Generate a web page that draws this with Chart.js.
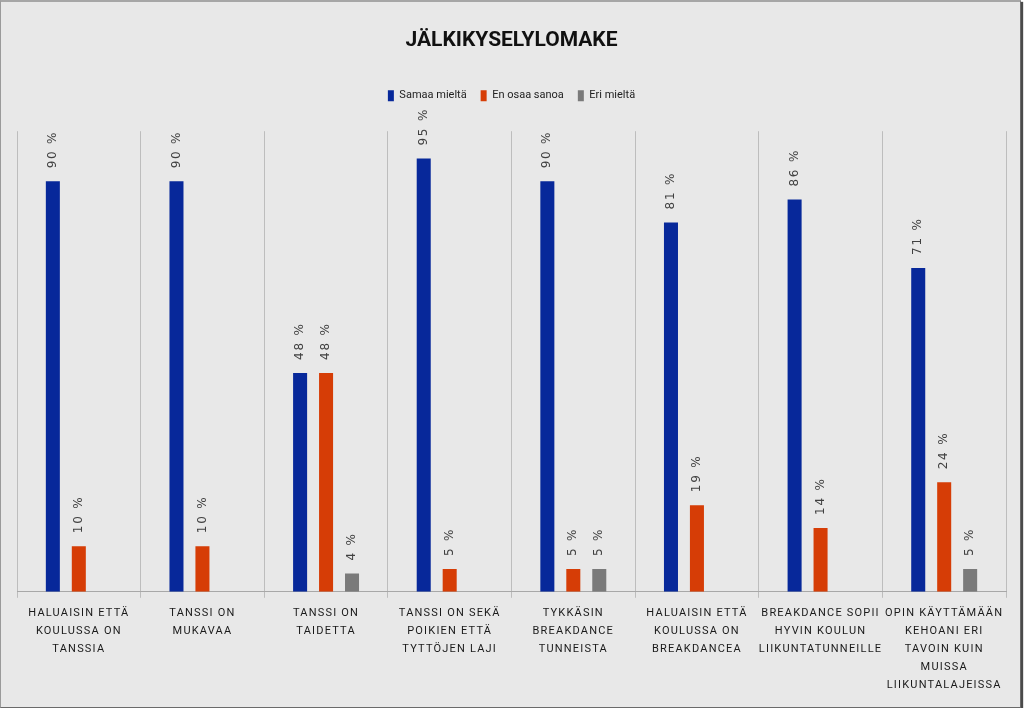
<!DOCTYPE html>
<html>
<head>
<meta charset="utf-8">
<title>Jälkikyselylomake</title>
<script src="https://cdn.jsdelivr.net/npm/chart.js@4.4.1/dist/chart.umd.min.js"></script>
<style>
  html, body {
    margin: 0;
    padding: 0;
    background: #ffffff;
  }
  .frame {
    position: relative;
    width: 1019px;
    height: 705px;
    background: #e8e8e8;
    border-top: 2px solid #a6a6a6;
    border-left: 1px solid #9a9a9a;
    border-right: 1px solid #6a6a6a;
    border-bottom: 1px solid #6a6a6a;
    box-shadow: 2px 2px 1px #4a4a4a;
  }
  canvas { display: block; }
</style>
</head>
<body>
<div class="frame">
  <canvas id="chart" width="1019" height="705"></canvas>
</div>
<script>
// categories (multi-line x labels)
const categories = [
  ['HALUAISIN ETTÄ', 'KOULUSSA ON', 'TANSSIA'],
  ['TANSSI ON', 'MUKAVAA'],
  ['TANSSI ON', 'TAIDETTA'],
  ['TANSSI ON SEKÄ', 'POIKIEN ETTÄ', 'TYTTÖJEN LAJI'],
  ['TYKKÄSIN', 'BREAKDANCE', 'TUNNEISTA'],
  ['HALUAISIN ETTÄ', 'KOULUSSA ON', 'BREAKDANCEA'],
  ['BREAKDANCE SOPII', 'HYVIN KOULUN', 'LIIKUNTATUNNEILLE'],
  ['OPIN KÄYTTÄMÄÄN', 'KEHOANI ERI', 'TAVOIN KUIN', 'MUISSA', 'LIIKUNTALAJEISSA']
];

const samaaMielta = [90, 90, 48, 95, 90, 81, 86, 71];
const enOsaaSanoa = [10, 10, 48, 5, 5, 19, 14, 24];
const eriMielta = [null, null, 4, null, 5, null, null, 5];

const seriesNames = ['Samaa mieltä', 'En osaa sanoa', 'Eri mieltä'];
const seriesColors = ['#07289a', '#d63d06', '#7a7a7a'];

const narrow = 'Roboto, "Liberation Sans", sans-serif';

// rotated value labels above each bar
const valueLabels = {
  id: 'valueLabels',
  afterDatasetsDraw(chart) {
    const ctx = chart.ctx;
    ctx.save();
    ctx.font = '12px "DejaVu Sans", sans-serif';
    ctx.letterSpacing = '1.8px';
    ctx.fillStyle = '#404040';
    ctx.textAlign = 'left';
    ctx.textBaseline = 'middle';
    chart.data.datasets.forEach((ds, i) => {
      const meta = chart.getDatasetMeta(i);
      meta.data.forEach((bar, j) => {
        const v = ds.data[j];
        if (v === null || v === undefined) return;
        ctx.save();
        ctx.translate(bar.x, bar.y - 13);
        ctx.rotate(-Math.PI / 2);
        ctx.fillText(v + ' %', 0, 0);
        ctx.restore();
      });
    });
    ctx.restore();
  }
};

// letter-spaced category labels on the x axis
const spacedTicks = {
  id: 'spacedTicks',
  beforeDraw(chart) {
    const x = chart.scales.x;
    if (x && !x._spaced) {
      const orig = x.drawLabels.bind(x);
      x.drawLabels = function (area) {
        chart.ctx.save();
        chart.ctx.letterSpacing = '1.2px';
        orig(area);
        chart.ctx.restore();
      };
      x._spaced = true;
    }
  }
};

// extra room under the legend
const legendGap = {
  id: 'legendGap',
  beforeInit(chart) {
    const origFit = chart.legend.fit;
    chart.legend.fit = function () {
      origFit.bind(chart.legend)();
      this.height += 20;
    };
  }
};

new Chart(document.getElementById('chart'), {
  type: 'bar',
  data: {
    labels: categories,
    datasets: [
      { label: seriesNames[0], data: samaaMielta, backgroundColor: seriesColors[0] },
      { label: seriesNames[1], data: enOsaaSanoa, backgroundColor: seriesColors[1] },
      { label: seriesNames[2], data: eriMielta, backgroundColor: seriesColors[2] }
    ]
  },
  options: {
    responsive: false,
    animation: false,
    categoryPercentage: 0.63,
    barPercentage: 0.54,
    layout: { padding: { left: 16, right: 14, bottom: 7, top: 0 } },
    plugins: {
      title: {
        display: true,
        text: 'JÄLKIKYSELYLOMAKE',
        color: '#111111',
        font: { family: narrow, size: 21, weight: 'bold' },
        padding: { top: 26, bottom: 23 }
      },
      legend: {
        position: 'top',
        labels: {
          color: '#222222',
          boxWidth: 6,
          boxHeight: 11,
          padding: 14,
          font: { family: narrow, size: 11 }
        }
      },
      tooltip: { enabled: false }
    },
    scales: {
      x: {
        grid: {
          display: true,
          offset: true,
          color: '#bdbdbd',
          lineWidth: 1,
          drawTicks: true,
          tickLength: 6
        },
        border: { display: true, color: '#a8a8a8', width: 1 },
        ticks: {
          color: '#1a1a1a',
          maxRotation: 0,
          autoSkip: false,
          padding: 6,
          font: { family: narrow, size: 11, lineHeight: 1.64 }
        }
      },
      y: {
        display: false,
        min: 0,
        max: 101
      }
    }
  },
  plugins: [valueLabels, spacedTicks, legendGap]
});
</script>
</body>
</html>
